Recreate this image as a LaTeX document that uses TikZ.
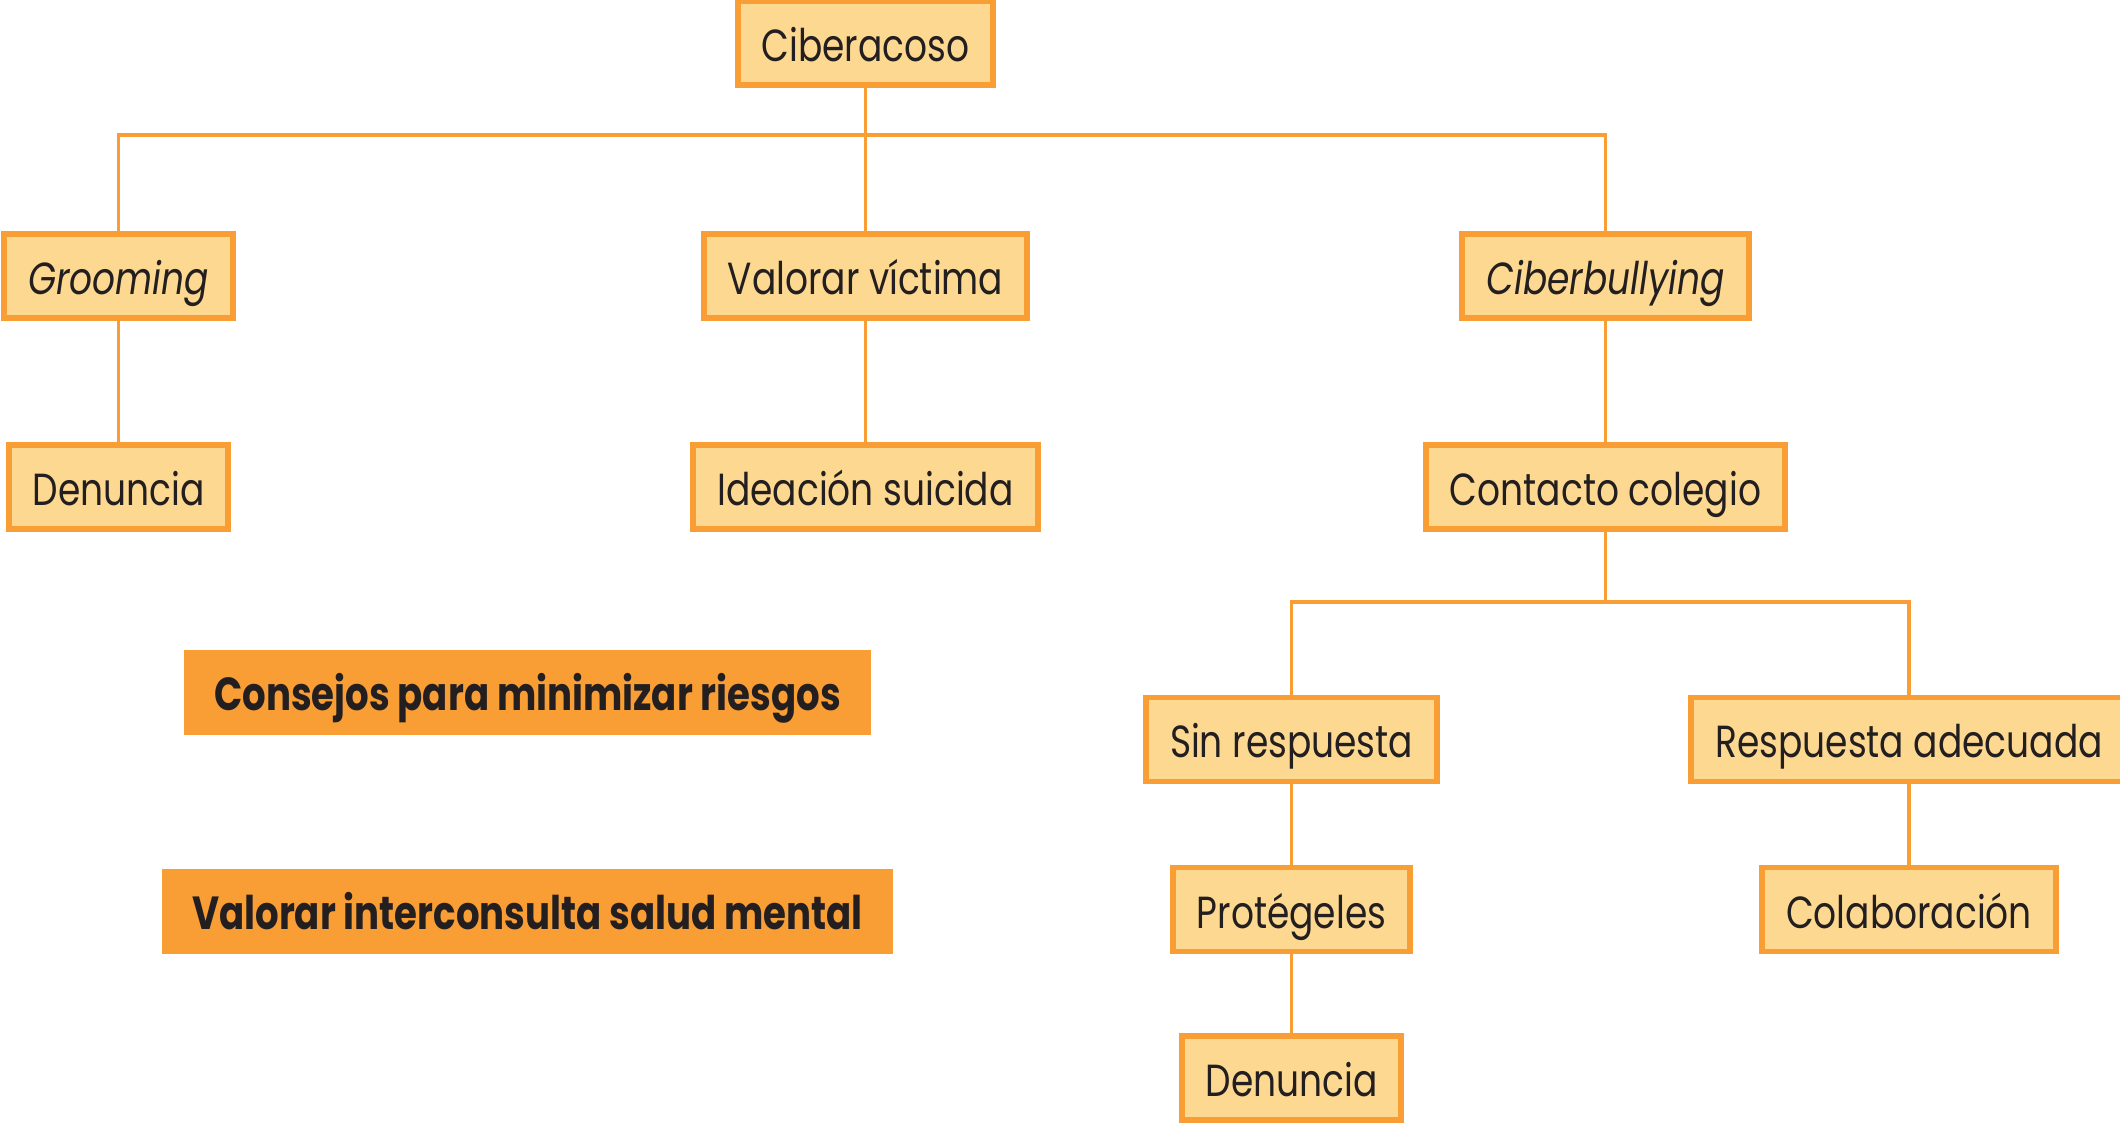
\documentclass[tikz,border=0pt]{standalone}
\usepackage{fontspec}
\setmainfont{Poppins}[FakeStretch=0.8]
\usepackage{tikz}
\usetikzlibrary{positioning}
\definecolor{boxfill}{HTML}{FDD891}
\definecolor{boxline}{HTML}{F99D35}
\definecolor{txt}{HTML}{231F20}
\tikzstyle{item} = [draw=boxline,fill=boxfill,line width=1.7pt,minimum height=0.84cm,inner xsep=0.24cm,text height=0.37cm,text depth=0cm,text=txt,font=\fontsize{12.8}{14}\selectfont]
\tikzstyle{note} = [fill=boxline,minimum height=0.85cm,inner xsep=0.3cm,text height=0.37cm,text depth=0cm,text=txt,font=\bfseries\fontsize{13.2}{15}\selectfont]
\tikzstyle{link} = [draw=boxline,line width=1.1pt]

\begin{document}
\begin{tikzpicture}
    \useasboundingbox (0,0) rectangle (21.2,11.23);
    % top level
    \node [item] (cib) at (8.655,10.795) {Ciberacoso};
    \node [item] (groom) at (1.185,8.47) {\itshape Grooming};
    \node [item] (valv) at (8.655,8.47) {Valorar víctima};
    \node [item] (cbull) at (16.055,8.47) {\itshape Ciberbullying};
    \node [item] (den) at (1.185,6.36) {Denuncia};
    \node [item] (idea) at (8.655,6.36) {Ideación suicida};
    \node [item] (cont) at (16.055,6.36) {Contacto colegio};
    % school branch
    \node [item] (sinr) at (12.915,3.835) {Sin respuesta};
    \node [item] (resp) at (19.09,3.835) {Respuesta adecuada};
    \node [item] (prot) at (12.915,2.135) {Protégeles};
    \node [item] (colab) at (19.09,2.135) {Colaboración};
    \node [item] (dentwo) at (12.915,0.45) {Denuncia};
    % advice
    \node [note] (cons) at (5.275,4.305) {Consejos para minimizar riesgos};
    \node [note] (salud) at (5.275,2.12) {Valorar interconsulta salud mental};
    % connectors
    \coordinate (busa) at (8.655,9.88);
    \coordinate (busb) at (16.055,5.21);
    \draw [link] (cib.south) -- (valv.north);
    \draw [link] (groom.north) |- (busa) -| (cbull.north);
    \draw [link] (groom.south) -- (den.north);
    \draw [link] (valv.south) -- (idea.north);
    \draw [link] (cbull.south) -- (cont.north);
    \draw [link] (cont.south) -- (busb);
    \draw [link] (sinr.north) |- (busb) -| (resp.north);
    \draw [link] (sinr.south) -- (prot.north);
    \draw [link] (prot.south) -- (dentwo.north);
    \draw [link] (resp.south) -- (colab.north);
\end{tikzpicture}
\end{document}
